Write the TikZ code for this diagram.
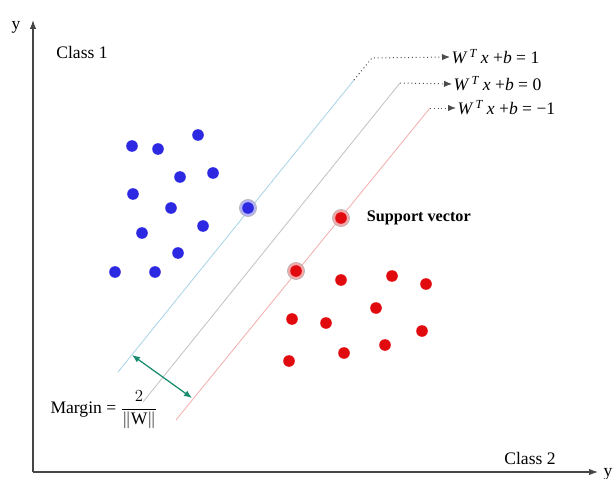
\documentclass[tikz,border=0pt]{standalone}
\usepackage{amsmath}
\usepackage{fontspec}
\setmainfont{Liberation Serif}
\usepackage{tikz}
\usetikzlibrary{arrows.meta}
\definecolor{classone}{RGB}{45,40,225}
\definecolor{classtwo}{RGB}{225,10,15}
\definecolor{posline}{RGB}{170,212,232}
\definecolor{midline}{RGB}{195,195,195}
\definecolor{negline}{RGB}{244,175,175}
\definecolor{marginc}{RGB}{25,140,110}
\definecolor{axisgray}{RGB}{70,70,70}

\begin{document}
\begin{tikzpicture}[
  x=0.025cm, y=-0.025cm,
  font=\fontsize{12.5}{15}\selectfont,
  axis/.style={-{Latex[length=2.2mm,width=1.6mm]}, axisgray, line width=0.9pt},
  hyper/.style={line width=0.6pt},
  dotconn/.style={dotted, gray!60!black, line width=0.7pt, -{Latex[length=2mm,width=1.6mm]}},
  sample/.style={circle, inner sep=0pt, minimum size=2.9mm},
  halo/.style={circle, draw=gray!60, inner sep=0pt, minimum size=4.3mm},
  eq/.style={anchor=west, inner sep=1pt}
]
\path[use as bounding box] (0,0) rectangle (613,479);
% axes
\coordinate (origin) at (33,472);
\coordinate (ytip) at (33,20);
\coordinate (xtip) at (598,472);
\draw[axis] (origin) -- (ytip);
\draw[axis] (origin) -- (xtip);
\node (ylab) at (16,27) {y};
\node[anchor=west, inner sep=1pt] (xlab) at (602,474) {y};
\node (class1) at (82,52) {Class 1};
\node (class2) at (530,458) {Class 2};

% hyperplanes
\coordinate (pos-lo) at (118,372);
\coordinate (pos-hi) at (354,80);
\coordinate (pos-bend) at (372,58);
\coordinate (mid-lo) at (143,402);
\coordinate (mid-hi) at (400,83);
\coordinate (neg-lo) at (176,420);
\coordinate (neg-hi) at (430,108);
\draw[hyper, posline] (pos-lo) -- (pos-hi);
\draw[hyper, midline] (mid-lo) -- (mid-hi);
\draw[hyper, negline] (neg-lo) -- (neg-hi);

\node[eq] (eq-pos) at (450,57) {\textit{W}\textsuperscript{\,\textit{T}}\,\textit{x} +\textit{b} = 1};
\node[eq] (eq-zero) at (452,84) {\textit{W}\textsuperscript{\,\textit{T}}\,\textit{x} +\textit{b} = 0};
\node[eq] (eq-neg) at (456,108) {\textit{W}\textsuperscript{\,\textit{T}}\,\textit{x} +\textit{b} = −1};
\draw[dotconn] (pos-hi) -- (pos-bend) -- (eq-pos.west);
\draw[dotconn] (mid-hi) -- (eq-zero.west);
\draw[dotconn] (neg-hi) -- (eq-neg.west);

% class 1 samples
\foreach \px/\py [count=\i] in {132/146, 158/149, 198/135, 180/177, 213/173, 133/194,
    171/208, 142/233, 203/226, 178/253, 115/272, 155/272}
  \node[sample, fill=classone] (one\i) at (\px,\py) {};
% class 2 samples
\foreach \px/\py [count=\i] in {341/280, 392/276, 426/284, 292/319, 326/323, 376/308,
    422/331, 344/353, 385/345, 289/361}
  \node[sample, fill=classtwo] (two\i) at (\px,\py) {};

% support vectors
\node[halo, fill=classone!35] (sv1) at (248,208) {};
\node[sample, fill=classone] at (sv1) {};
\node[halo, fill=classtwo!35] (sv2) at (296,271) {};
\node[sample, fill=classtwo] at (sv2) {};
\node[halo, fill=classtwo!35] (sv3) at (341,218) {};
\node[sample, fill=classtwo] at (sv3) {};
\node[anchor=west, font=\fontsize{11.5}{14}\selectfont\bfseries] (svlab) at (362,218) {Support vector};

% margin
\coordinate (m-a) at (132,355);
\coordinate (m-b) at (192,398);
\draw[{Latex[length=2mm,width=1.6mm]}-{Latex[length=2mm,width=1.6mm]}, marginc, line width=0.9pt] (m-a) -- (m-b);
\node (marginlab) at (104,410) {Margin = $\dfrac{2}{\|\mathrm{W}\|}$};
\end{tikzpicture}
\end{document}
